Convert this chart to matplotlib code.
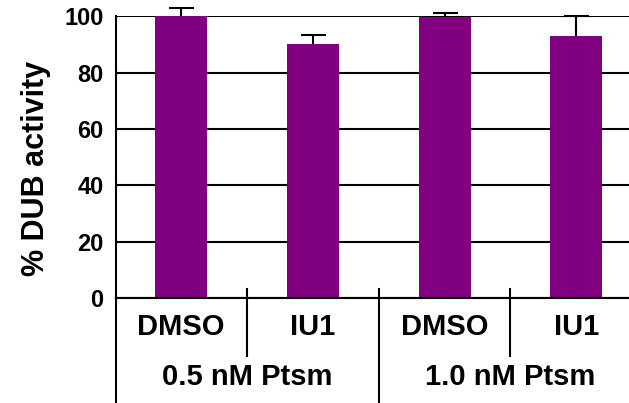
import matplotlib
matplotlib.use("Agg")
import matplotlib.pyplot as plt
import matplotlib.transforms as mtransforms
from matplotlib.lines import Line2D

# Data: DUB activity per condition (percent of DMSO control)
conditions = ["DMSO", "IU1", "DMSO", "IU1"]
groups = ["0.5 nM Ptsm", "1.0 nM Ptsm"]
activity = [100.0, 90.2, 99.8, 93.0]
activity_err = [2.8, 3.0, 1.2, 7.1]
y_ticks = [0, 20, 40, 60, 80, 100]

BAR_COLOR = "#800080"
FONT = "Liberation Sans"

plt.rcParams["font.family"] = [FONT, "DejaVu Sans"]
plt.rcParams["font.weight"] = "bold"

fig = plt.figure(figsize=(6.29, 4.03), dpi=100)
ax = fig.add_axes([0.1844, 0.2598, 0.8156, 0.6998])

x = list(range(len(conditions)))

ax.bar(x, activity, width=0.395, color=BAR_COLOR, zorder=2)
eb = ax.errorbar(x, activity, yerr=[[0] * len(x), activity_err], fmt="none",
                 ecolor="black", elinewidth=1.5, capsize=9, capthick=1.5,
                 zorder=3, clip_on=False)
# keep only the upper caps
eb.lines[1][0].set_visible(False)

ax.set_xlim(-0.494, 3.40)
ax.set_ylim(0, 100)
ax.set_yticks(y_ticks)
ax.set_yticklabels([str(t) for t in y_ticks], fontsize=17, fontweight="bold")
ax.tick_params(axis="y", length=0, pad=9)
ax.set_xticks([])

ax.yaxis.grid(True, color="black", linewidth=1.5, zorder=1)
ax.set_axisbelow(True)

for side in ["top", "right"]:
    ax.spines[side].set_visible(False)
ax.spines["left"].set_linewidth(1.5)
ax.spines["bottom"].set_linewidth(1.5)

# left axis line runs down past the category labels
ax.add_line(Line2D([0, 0], [0, -0.375], transform=ax.transAxes,
                   color="black", linewidth=1.5, clip_on=False))

trans = mtransforms.blended_transform_factory(ax.transData, ax.transAxes)

# condition labels and short separators inside each group
for xi, name in zip(x, conditions):
    ax.text(xi, -0.10, name, transform=trans, ha="center", va="center",
            fontsize=21, fontweight="bold")
for sep in [0.5, 2.5]:
    ax.add_line(Line2D([sep, sep], [0.032, -0.2035], transform=trans,
                       color="black", linewidth=1.5, clip_on=False))

# long separator between the two Ptsm groups
ax.add_line(Line2D([1.5, 1.5], [0.032, -0.375], transform=trans,
                   color="black", linewidth=1.5, clip_on=False))

for gi, gname in enumerate(groups):
    ax.text(2 * gi + 0.5, -0.278, gname, transform=trans, ha="center",
            va="center", fontsize=21, fontweight="bold")

fig.text(0.0572, 0.583, "% DUB activity", rotation=90, ha="center",
         va="center", fontsize=22, fontweight="bold")

fig.savefig("out.png", dpi=100)
